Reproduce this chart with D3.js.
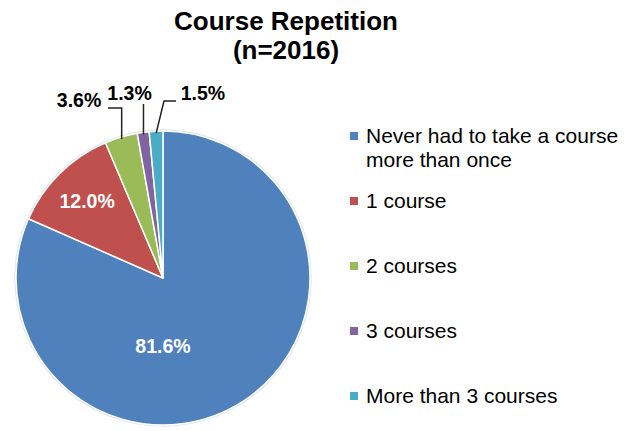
<!DOCTYPE html>
<html><head><meta charset="utf-8">
<script src="https://cdn.jsdelivr.net/npm/d3@7/dist/d3.min.js"></script>
<style>
html,body{margin:0;padding:0;background:#fff;}
svg{display:block;font-family:"Liberation Sans",Arial,sans-serif;}
</style></head>
<body>
<svg id="chart" width="629" height="431"></svg>
<script>
const titleLines = ["Course Repetition", "(n=2016)"];
const categories = ["Never had to take a course more than once", "1 course", "2 courses", "3 courses", "More than 3 courses"];
const legendLines = [["Never had to take a course", "more than once"], ["1 course"], ["2 courses"], ["3 courses"], ["More than 3 courses"]];
const values = [81.6, 12.0, 3.6, 1.3, 1.5];
const colors = ["#4F81BD", "#C0504D", "#9BBB59", "#8064A2", "#4BACC6"];

const svg = d3.select("#chart");
const cx = 163, cy = 278, R = 147;

// Title
svg.append("text").attr("text-anchor","middle").attr("font-weight","bold").attr("font-size",26).attr("fill","#000")
  .selectAll("tspan").data(titleLines).join("tspan")
  .attr("x",286).attr("y",(d,i)=>30+i*29).text(d=>d);

const pie = d3.pie().sort(null).value(d=>d)(values);
const arc = d3.arc().innerRadius(0).outerRadius(R);
const g = svg.append("g").attr("transform",`translate(${cx},${cy})`);

g.append("circle").attr("r",R+1).attr("fill","none").attr("stroke","#dfe6ef").attr("stroke-width",1.5);
g.selectAll("path.slice").data(pie).join("path").attr("class","slice")
  .attr("d",arc).attr("fill",(d,i)=>colors[i]).attr("stroke","#fff").attr("stroke-width",1.5).attr("stroke-linejoin","round");

const fmt = v => v.toFixed(1) + "%";

// Inside labels
const inner = [
  {i:0, pos:()=>[0, 68]},
  {i:1, pos:()=>d3.arc().innerRadius(0).outerRadius(2*108).centroid(pie[1])}
];
inner.forEach(o=>{
  const p = o.pos();
  g.append("text").attr("x",p[0]).attr("y",p[1]).attr("dy","0.35em").attr("text-anchor","middle")
    .attr("font-weight","bold").attr("font-size",19.5).attr("fill","#fff").text(fmt(values[o.i]));
});

// Outside labels with leader lines
const outerArc = (d, r) => d3.arc().innerRadius(r).outerRadius(r).centroid(d);
const outside = [
  {i:2, text:[-84,-171], leader:(e)=>[[-55,-170],[e[0],-170],e]},
  {i:3, text:[-33.5,-178], leader:(e)=>[[e[0],-174],e]},
  {i:4, text:[40,-178], leader:(e)=>[[13,-177],[1,-177],e]}
];
outside.forEach(o=>{
  const d = pie[o.i];
  const e = outerArc(d, R-2);
  g.append("path").attr("d",d3.line()(o.leader(e))).attr("fill","none").attr("stroke","#222").attr("stroke-width",1.5);
  g.append("text").attr("x",o.text[0]).attr("y",o.text[1]).attr("text-anchor","middle")
    .attr("font-weight","bold").attr("font-size",19.5).attr("fill","#000").text(fmt(values[o.i]));
});

// Legend
const legendY = [136, 201, 266, 331, 396];
const lg = svg.append("g");
categories.forEach((c,i)=>{
  lg.append("rect").attr("x",350).attr("y",legendY[i]-4).attr("width",8).attr("height",8).attr("fill",colors[i]);
  const t = lg.append("text").attr("font-size",21).attr("fill","#000");
  legendLines[i].forEach((l,j)=>{
    t.append("tspan").attr("x",366).attr("y",legendY[i]+6.5+j*24.5).text(l);
  });
});
</script>
</body></html>
